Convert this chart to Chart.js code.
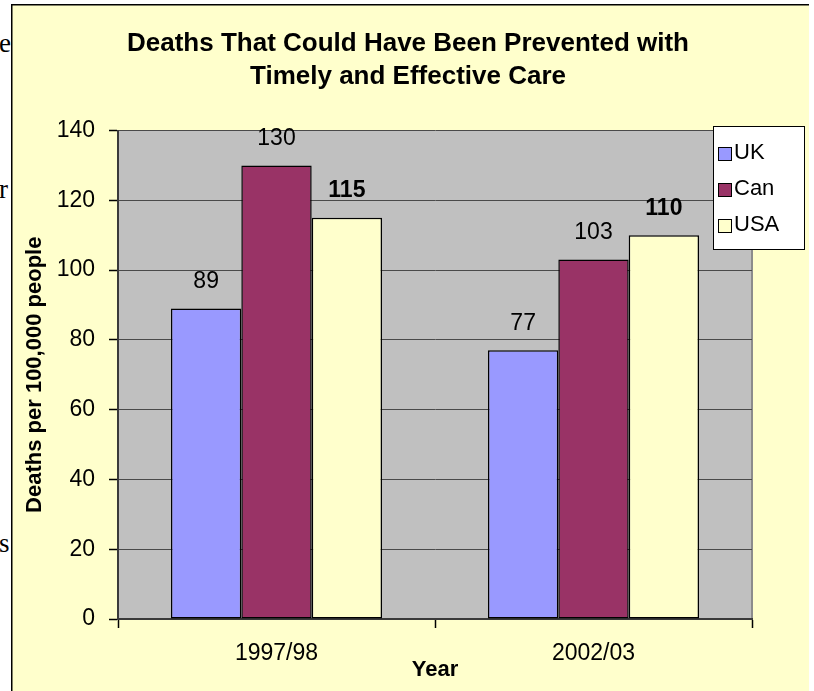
<!DOCTYPE html>
<html>
<head>
<meta charset="utf-8">
<title>Deaths That Could Have Been Prevented</title>
<script src="https://cdn.jsdelivr.net/npm/chart.js@4/dist/chart.umd.min.js"></script>
<style>
  html, body { margin: 0; padding: 0; background: #ffffff; }
  #wrap { position: relative; width: 814px; height: 691px; overflow: hidden; }
  #chart { position: absolute; left: 0; top: 0; }
  /* ends of the surrounding document's lines, cut off by the chart frame */
  .margin-text {
    position: absolute; left: -1px; width: 12px; overflow: hidden;
    font-family: "Liberation Serif", "DejaVu Serif", serif; font-size: 27px;
    color: #000; white-space: nowrap; line-height: 30px;
  }
</style>
</head>
<body>
<div id="wrap">
  <div class="margin-text" style="top:28px;">e</div>
  <div class="margin-text" style="top:174px;">r</div>
  <div class="margin-text" style="top:528px;">s</div>
  <canvas id="chart" width="814" height="691"></canvas>
</div>
<script>
// Chart text
const titleLines = ['Deaths That Could Have Been Prevented with', 'Timely and Effective Care'];
const xAxisTitle = 'Year';
const yAxisTitle = 'Deaths per 100,000 people';

// Categories and series
const categories = ['1997/98', '2002/03'];
const seriesNames = ['UK', 'Can', 'USA'];
const ukDeaths = [89, 77];
const canDeaths = [130, 103];
const usaDeaths = [115, 110];
const boldLabelSeries = ['USA'];

// Value axis ticks
const yTickValues = [0, 20, 40, 60, 80, 100, 120, 140];

const FONT = '"Liberation Sans", Arial, Helvetica, sans-serif';
const seriesColors = { UK: '#9999FF', Can: '#993366', USA: '#FFFFCC' };

// Frame: pale yellow panel with a dark edge on the left and top
const framePlugin = {
  id: 'frame',
  beforeDraw(chart) {
    const { ctx, chartArea: a } = chart;
    ctx.save();
    ctx.fillStyle = '#FFFFCC';
    ctx.fillRect(12, 5, 797, 686);
    ctx.strokeStyle = '#000';
    ctx.lineWidth = 1.5;
    ctx.beginPath();
    ctx.moveTo(11.75, 691);
    ctx.lineTo(11.75, 4.75);
    ctx.lineTo(809, 4.75);
    ctx.stroke();
    // plot background
    ctx.fillStyle = '#C0C0C0';
    ctx.fillRect(a.left, a.top, a.right - a.left, a.bottom - a.top);
    ctx.strokeStyle = '#8c8c8c';
    ctx.lineWidth = 2;
    ctx.beginPath();
    ctx.moveTo(a.right, a.top);
    ctx.lineTo(a.right, a.bottom);
    ctx.stroke();
    ctx.restore();
  }
};

// Two-line chart heading
const headingPlugin = {
  id: 'heading',
  afterDraw(chart) {
    const { ctx } = chart;
    ctx.save();
    ctx.fillStyle = '#000';
    ctx.font = 'bold 26px ' + FONT;
    ctx.textAlign = 'center';
    ctx.textBaseline = 'middle';
    titleLines.forEach((line, i) => ctx.fillText(line, 408, 44 + i * 33));
    ctx.restore();
  }
};

// Value labels above each bar
const valueLabelPlugin = {
  id: 'valueLabels',
  afterDatasetsDraw(chart) {
    const { ctx } = chart;
    ctx.save();
    ctx.fillStyle = '#000';
    ctx.textAlign = 'center';
    ctx.textBaseline = 'middle';
    chart.data.datasets.forEach((ds, di) => {
      const meta = chart.getDatasetMeta(di);
      const bold = boldLabelSeries.includes(ds.label);
      ctx.font = (bold ? 'bold ' : '') + '23px ' + FONT;
      meta.data.forEach((bar, i) => {
        ctx.fillText(String(ds.data[i]), bar.x, bar.y - 27);
      });
    });
    ctx.restore();
  }
};

// Boxed legend in the upper right corner
const boxLegendPlugin = {
  id: 'boxLegend',
  afterDraw(chart) {
    const { ctx } = chart;
    const x = 713, y = 126, w = 92, h = 124;
    ctx.save();
    ctx.fillStyle = '#FFFFFF';
    ctx.fillRect(x, y, w, h);
    ctx.strokeStyle = '#000';
    ctx.lineWidth = 1;
    ctx.strokeRect(x + 0.5, y + 0.5, w - 1, h - 1);
    ctx.font = '22px ' + FONT;
    ctx.textBaseline = 'middle';
    ctx.textAlign = 'left';
    chart.data.datasets.forEach((ds, i) => {
      const cy = y + 27 + i * 36;
      ctx.fillStyle = ds.backgroundColor;
      ctx.fillRect(x + 5, cy - 6, 14, 14);
      ctx.strokeStyle = '#000';
      ctx.strokeRect(x + 5.5, cy - 5.5, 13, 13);
      ctx.fillStyle = '#000';
      ctx.fillText(ds.label, x + 21, cy);
    });
    ctx.restore();
  }
};

const seriesData = [ukDeaths, canDeaths, usaDeaths];

new Chart(document.getElementById('chart'), {
  type: 'bar',
  data: {
    labels: categories,
    datasets: seriesNames.map((name, i) => ({
      label: name,
      data: seriesData[i],
      backgroundColor: seriesColors[name],
      borderColor: '#000000',
      borderWidth: 1.5,
      borderSkipped: false,
      categoryPercentage: 0.666,
      barPercentage: 1.0
    }))
  },
  options: {
    responsive: false,
    animation: false,
    devicePixelRatio: 1,
    layout: { padding: { left: 12, right: 62, top: 130.5, bottom: 0 } },
    plugins: {
      legend: { display: false },
      title: { display: false },
      tooltip: { enabled: false }
    },
    scales: {
      x: {
        grid: { display: true, drawOnChartArea: false, drawTicks: true, tickLength: 9, tickColor: '#000', tickWidth: 1.5, offset: true },
        border: { display: true, color: '#3a3a3a', width: 2 },
        ticks: { color: '#000', font: { family: FONT, size: 23 }, padding: 12 },
        title: { display: true, text: xAxisTitle, color: '#000', font: { family: FONT, size: 22, weight: 'bold' }, padding: { top: 0, bottom: 8 } },
        afterFit(scale) { scale.height = 72; }
      },
      y: {
        min: 0,
        max: 140,
        afterBuildTicks(scale) { scale.ticks = yTickValues.map(v => ({ value: v })); },
        grid: { color: '#4a4a4a', lineWidth: 1, tickColor: '#000', tickLength: 9, tickWidth: 1.5 },
        border: { display: true, color: '#3a3a3a', width: 2 },
        ticks: { color: '#000', font: { family: FONT, size: 23 }, padding: 14 },
        title: { display: true, text: yAxisTitle, color: '#000', font: { family: FONT, size: 22, weight: 'bold' }, padding: { top: 10, bottom: 0 } },
        afterFit(scale) { scale.width = 106; }
      }
    }
  },
  plugins: [framePlugin, valueLabelPlugin, boxLegendPlugin, headingPlugin]
});
</script>
</body>
</html>
